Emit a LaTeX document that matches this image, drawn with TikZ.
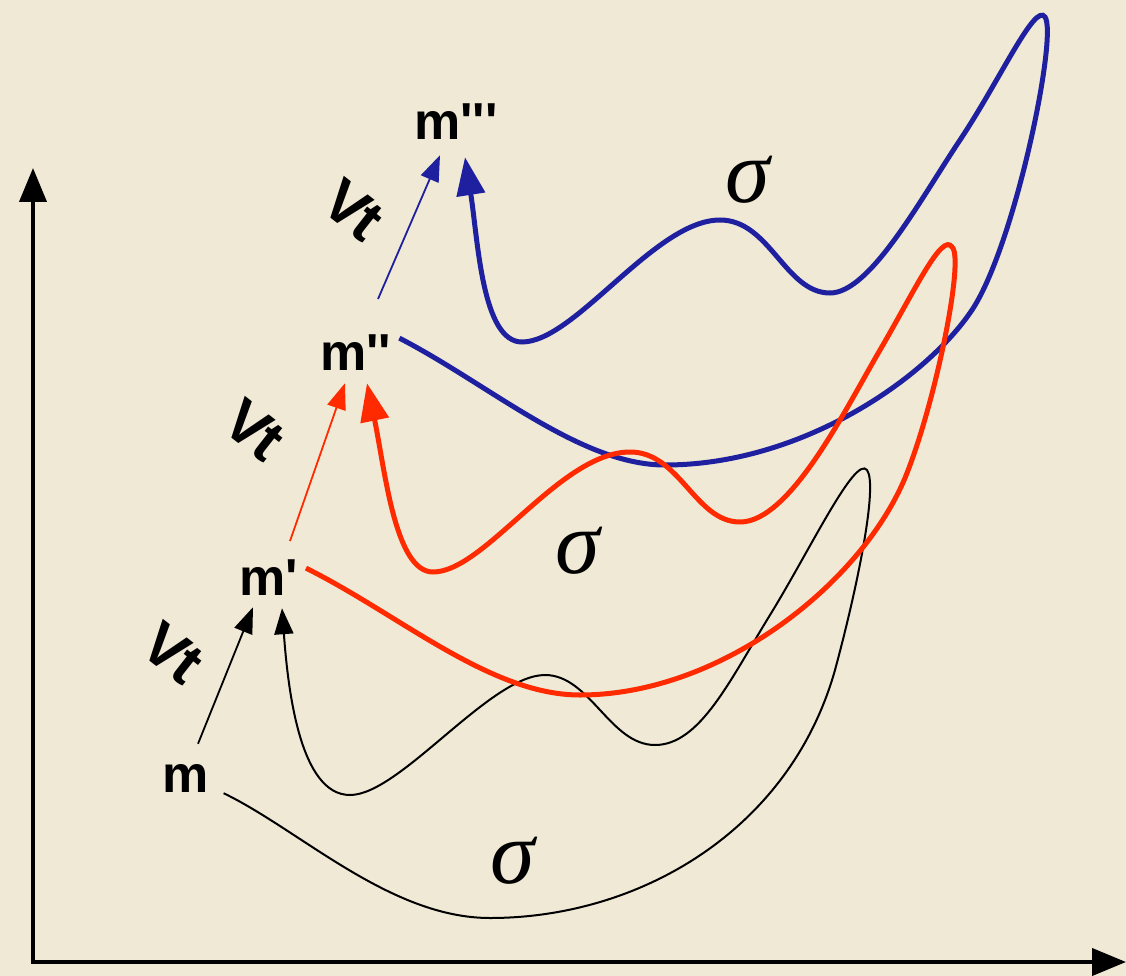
\documentclass[tikz,border=0pt]{standalone}
\usepackage{fontspec}
\newfontfamily\labfont{Liberation Sans}
\newfontfamily\sigfont{Liberation Serif}
\usetikzlibrary{arrows.meta}
\definecolor{paper}{RGB}{240,233,214}
\definecolor{cred}{RGB}{255,42,0}
\definecolor{cblue}{RGB}{30,32,160}
\tikzset{
  lbl/.style={font=\labfont\bfseries\fontsize{52}{52}\selectfont, inner sep=0pt},
  vtlbl/.style={font=\labfont\bfseries\fontsize{60}{60}\selectfont, inner sep=0pt, rotate=-38},
  sig/.style={font=\sigfont\itshape\fontsize{90}{90}\selectfont, inner sep=0pt},
  axisline/.style={line width=4pt, -{Triangle[length=34pt,width=27pt]}},
  thinarr/.style={line width=1.8pt, -{Triangle[length=26pt,width=19pt]}},
  blackcurve/.style={line width=2pt, -{Triangle[length=26pt,width=19pt]}},
  thickarr/.style={line width=5pt, -{Triangle[length=38pt,width=28pt]}},
}
\begin{document}
\begin{tikzpicture}[x=1pt,y=-1pt]
\fill[paper] (0,0) rectangle (1126,976);
\useasboundingbox (0,0) rectangle (1126,976);

% axes
\coordinate (O) at (33,962);
\coordinate (Ytop) at (33,168);
\coordinate (Xend) at (1126,962);
\coordinate (Ostart) at (31,962);
\draw[axisline] (O) -- (Ytop);
\draw[axisline] (Ostart) -- (Xend);

% labels
\node[lbl,anchor=base west] (m0) at (162,792) {m};
\node[lbl,anchor=base west] (m1) at (239,595) {m\textquotesingle};
\node[lbl,anchor=base west] (m2) at (320,370) {m\textquotesingle\textquotesingle};
\node[lbl,anchor=base west] (m3) at (414,140) {m\textquotesingle\textquotesingle\textquotesingle};

\node[vtlbl] (vt1) at (173,653) {V\kern-3pt t};
\node[vtlbl] (vt2) at (254,430) {V\kern-3pt t};
\node[vtlbl] (vt3) at (353,210) {V\kern-3pt t};

\node[sig] (s1) at (513,861) {σ};
\node[sig] (s2) at (578,551) {σ};
\node[sig] (s3) at (748,180) {σ};

% black landscape curve
\draw[blackcurve] ([shift={(15,1)}]m0.south east)
  .. controls (300,830) and (390,918) .. (490,918)
  .. controls (640,918) and (790,830) .. (835,670)
  .. controls (858,585) and (878,485) .. (867,470)
  .. controls (855,455) and (810,550) .. (770,615)
  .. controls (730,680) and (700,745) .. (655,745)
  .. controls (610,745) and (590,675) .. (545,675)
  .. controls (490,675) and (400,795) .. (350,795)
  .. controls (300,795) and (288,690) .. ([shift={(43,13)}]m1.south west);

% blue landscape curve
\draw[cblue,thickarr] ([shift={(8,-14)}]m2.east)
  .. controls (490,385) and (580,465) .. (665,465)
  .. controls (800,465) and (925,380) .. (972,310)
  .. controls (1015,245) and (1058,35) .. (1045,17)
  .. controls (1035,2) and (1000,80) .. (960,140)
  .. controls (920,200) and (870,293) .. (830,293)
  .. controls (785,293) and (770,220) .. (720,220)
  .. controls (655,220) and (575,342) .. (522,342)
  .. controls (482,342) and (478,240) .. ([shift={(51,17)}]m3.south west);

% red landscape curve
\draw[cred,thickarr] ([shift={(8,-9)}]m1.east)
  .. controls (400,615) and (490,695) .. (580,695)
  .. controls (720,695) and (860,585) .. (905,478)
  .. controls (935,405) and (965,258) .. (952,247)
  .. controls (942,232) and (915,290) .. (880,350)
  .. controls (845,410) and (790,522) .. (740,522)
  .. controls (695,522) and (680,452) .. (630,452)
  .. controls (560,452) and (485,572) .. (433,572)
  .. controls (395,572) and (385,470) .. ([shift={(47,13)}]m2.south west);

% thin step arrows
\draw[thinarr] ([shift={(36,-20)}]m0.north west) -- ([shift={(14,12)}]m1.south west);
\draw[cred,thinarr] ([shift={(51,-18)}]m1.north west) -- ([shift={(25,13)}]m2.south west);
\draw[cblue,thinarr] ([shift={(58,-35)}]m2.north west) -- ([shift={(26,15)}]m3.south west);
\end{tikzpicture}
\end{document}
